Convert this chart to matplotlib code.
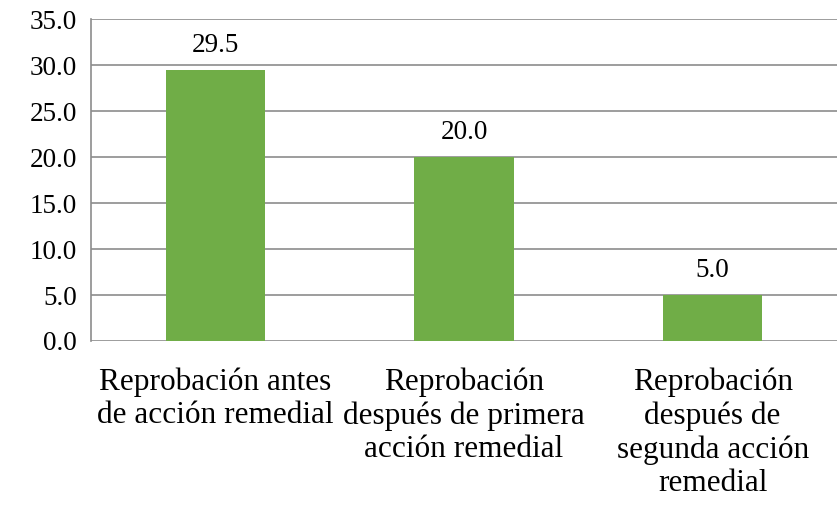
import matplotlib.pyplot as plt
from matplotlib.ticker import MultipleLocator, FormatStrFormatter

categories = [
    "Reprobación antes\nde acción remedial",
    "Reprobación\ndespués de primera\nacción remedial",
    "Reprobación\ndespués de\nsegunda acción\nremedial",
]
values = [29.5, 20.0, 5.0]

serif = ["Tinos", "Liberation Serif", "Times New Roman", "DejaVu Serif"]
plt.rcParams["font.family"] = serif

fig = plt.figure(figsize=(8.4, 5.05), dpi=100)
ax = fig.add_axes([0.1083, 0.3248, 0.8881, 0.6366])

x = list(range(len(values)))
bars = ax.bar(x, values, width=0.4, color="#70AD47", zorder=3)
for b, v in zip(bars, values):
    ax.annotate(f"{v:.1f}", (b.get_x() + b.get_width() / 2, v),
                xytext=(0, 9), textcoords="offset points",
                ha="center", va="bottom", fontsize=19.5, family=serif)

ax.set_xlim(-0.5, 2.5)
ax.set_ylim(0, 35)
ax.yaxis.set_major_locator(MultipleLocator(5))
ax.yaxis.set_major_formatter(FormatStrFormatter("%.1f"))
ax.grid(axis="y", color="#8c8c8c", linewidth=1.2, zorder=0)
ax.set_axisbelow(True)

ax.set_xticks(x)
ax.set_xticklabels(categories, fontsize=22.5, linespacing=1.2, family=serif)
ax.tick_params(axis="both", length=0)
ax.tick_params(axis="y", pad=10, labelsize=19.5)
ax.tick_params(axis="x", pad=19)
for t in ax.get_yticklabels():
    t.set_family(serif)

for s in ["top", "right", "bottom"]:
    ax.spines[s].set_visible(False)
ax.spines["left"].set_color("#8c8c8c")
ax.spines["left"].set_linewidth(1.2)

fig.savefig("out.png", dpi=100)
